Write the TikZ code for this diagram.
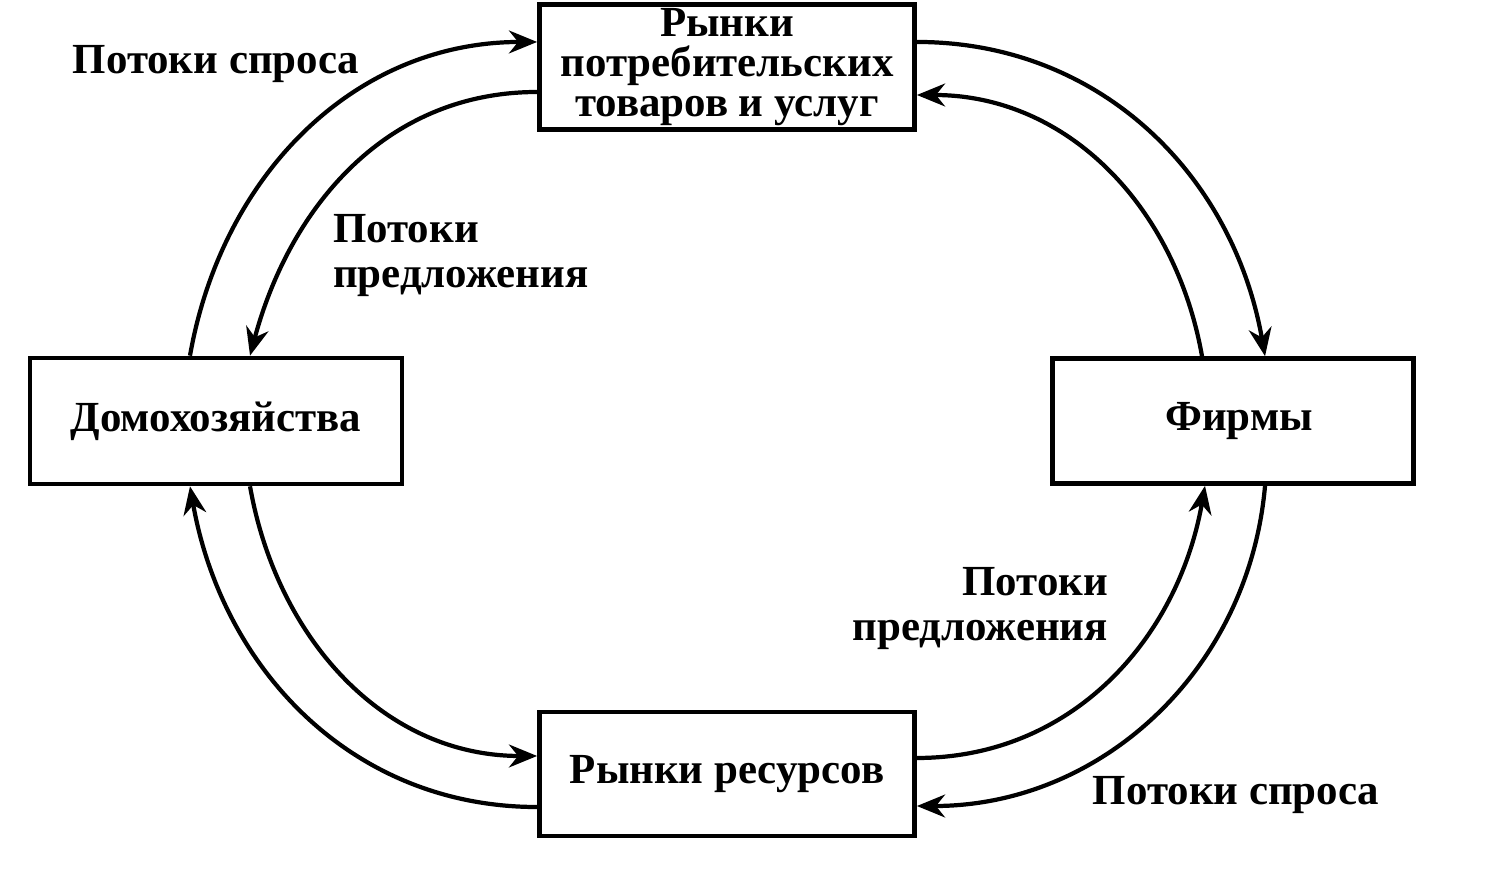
\documentclass[tikz,border=0pt]{standalone}
\usepackage{fontspec}
\setmainfont{Liberation Serif}
\usepackage{tikz}
\usetikzlibrary{arrows.meta}

\tikzset{
    market/.style = {rectangle, draw, line width=1.3pt, inner sep=0pt,
        minimum width=3.75cm, minimum height=1.25cm, align=center,
        font=\bfseries\fontsize{12.2}{11.4}\selectfont},
    flowlabel/.style = {inner sep=0pt, font=\bfseries\fontsize{12.2}{12.8}\selectfont},
}

\begin{document}
\begin{tikzpicture}[x=0.01cm, y=0.01cm, line width=1.2pt, >={Stealth[length=8pt, width=6.5pt]}]
        \useasboundingbox (0, 0) rectangle (1486, 892);
        \node (goods) [market] at (727, 825) {Рынки\\потребительских\\товаров и услуг};
        \node (house) [market, minimum width=3.72cm, minimum height=1.26cm] at (216, 471) {Домохозяйства};
        \node (firms) [market, minimum width=3.61cm, minimum height=1.25cm] at (1233, 471) {\hspace{0.12cm}Фирмы};
        \node (res) [market, minimum height=1.24cm] at (727, 118) {Рынки ресурсов};

        % goods market
        \draw[->] ([xshift=-0.26cm]house.north) to [out=80, in=180] ([yshift=0.25cm]goods.west);
        \draw[->] ([yshift=-0.25cm]goods.west) to [out=180, in=75] ([xshift=0.34cm]house.north);
        \draw[->] ([yshift=0.25cm]goods.east) to [out=0, in=100] ([xshift=0.32cm]firms.north);
        \draw[->] ([xshift=-0.31cm]firms.north) to [out=100, in=0] ([yshift=-0.28cm]goods.east);

        % resource market
        \draw[->] ([xshift=0.34cm]house.south) to [out=-80, in=180] ([yshift=0.18cm]res.west);
        \draw[->] ([yshift=-0.33cm]res.west) to [out=180, in=-80] ([xshift=-0.26cm]house.south);
        \draw[->] ([yshift=0.16cm]res.east) to [out=0, in=-100] ([xshift=-0.28cm]firms.south);
        \draw[->] ([xshift=0.32cm]firms.south) to [out=-95, in=0] ([yshift=-0.32cm]res.east);

        \node (dem1) [flowlabel] at (216, 828) {Потоки спроса};
        \node (sup1) [flowlabel, anchor=west, align=left] at (331, 636) {Потоки\\предложения};
        \node (sup2) [flowlabel, anchor=east, align=right] at (1110, 283) {Потоки\\предложения};
        \node (dem2) [flowlabel] at (1236, 97) {Потоки спроса};
\end{tikzpicture}
\end{document}
